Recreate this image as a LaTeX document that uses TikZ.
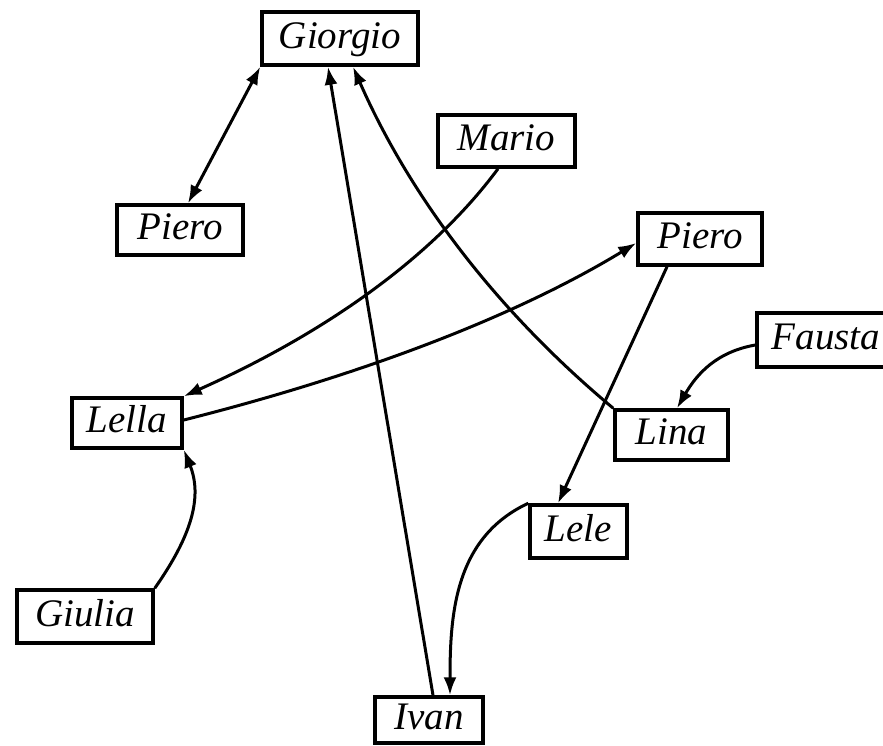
\documentclass[tikz,border=0pt]{standalone}
\usepackage{fontspec}
\setmainfont{Liberation Serif}
\usetikzlibrary{arrows.meta}
\begin{document}
\begin{tikzpicture}[x=1pt,y=-1pt,
  person/.style={draw, line width=3.5pt, inner sep=0pt,
    font=\fontsize{39}{42}\selectfont\itshape, text height=27pt, text depth=8pt},
  tip/.tip={Latex[length=18pt,width=13pt]},
  link/.style={line width=3pt, -tip},
  dlink/.style={line width=3pt, tip-tip}
  ]
\clip (0,0) rectangle (883,745);
\node[person, minimum width=156pt, minimum height=53pt] (giorgio) at (340,38.5) {Giorgio};
\node[person, minimum width=126pt, minimum height=50pt] (pierol) at (180,230) {Piero};
\node[person, minimum width=137pt, minimum height=52pt] (mario) at (506.5,141) {Mario};
\node[person, minimum width=124pt, minimum height=52pt] (pieror) at (700,239) {Piero};
\node[person, minimum width=138pt, minimum height=54pt] (fausta) at (826,340) {Fausta};
\node[person, minimum width=110pt, minimum height=50pt] (lella) at (127,423) {Lella};
\node[person, minimum width=113pt, minimum height=50pt] (lina) at (671.5,435) {Lina};
\node[person, minimum width=97pt, minimum height=53pt] (lele) at (578.5,531.5) {Lele};
\node[person, minimum width=136pt, minimum height=53pt] (giulia) at (85,616.5) {Giulia};
\node[person, minimum width=108pt, minimum height=46pt] (ivan) at (429,720) {Ivan};

\draw[dlink] ([xshift=8pt]pierol.north) -- (giorgio.south west);
\draw[link] ([xshift=4pt]ivan.north) -- ([xshift=-12pt]giorgio.south);
\draw[link] (lina.north west) .. controls (499,313) and (411,199) .. ([xshift=13pt]giorgio.south);
\draw[link] ([xshift=-8.5pt]mario.south) .. controls (435,254) and (330,331) .. (lella.north east);
\draw[link] ([yshift=3pt]lella.east) .. controls (366,374) and (518,315) .. ([yshift=-4pt]pieror.west);
\draw[link] ([xshift=-33pt]pieror.south) -- ([xshift=-20.5pt]lele.north);
\draw[link] ([yshift=-5pt]fausta.west) to[out=190,in=60] ([xshift=5.5pt]lina.north);
\draw[link] (giulia.north east) to[out=55,in=-68] (lella.south east);
\draw[link] (lele.north west) to[out=205,in=90] ([xshift=21pt]ivan.north);
\end{tikzpicture}
\end{document}
